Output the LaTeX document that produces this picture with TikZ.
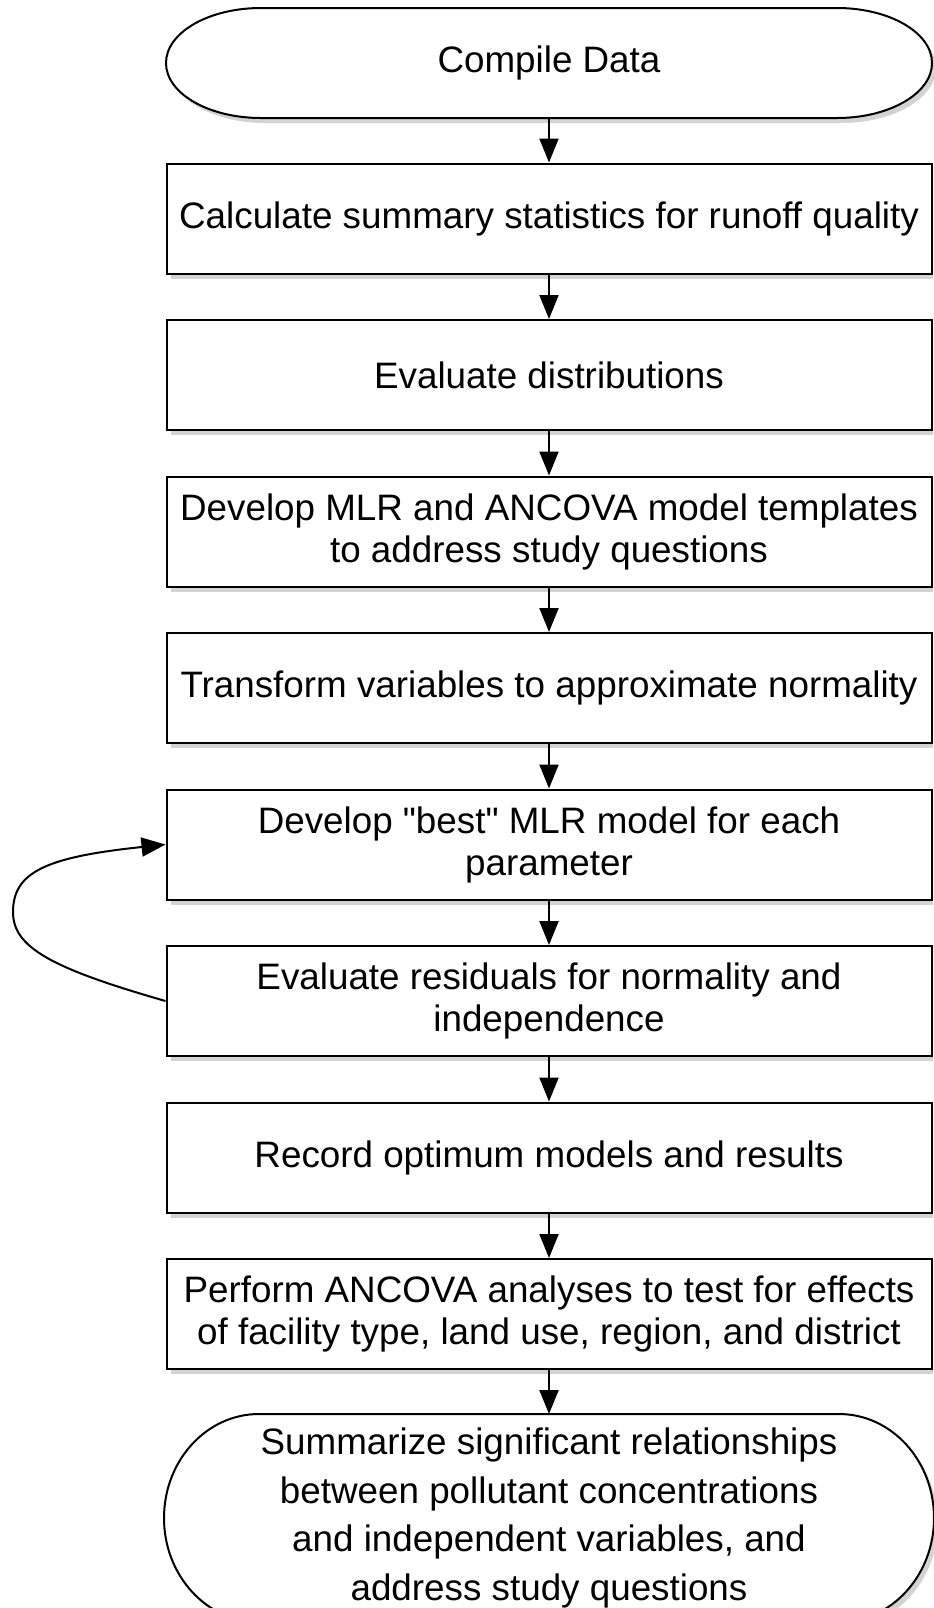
\documentclass[tikz,border=0pt]{standalone}
\usepackage{fontspec}
\setmainfont{Liberation Sans}
\usetikzlibrary{positioning,arrows.meta,shadows,backgrounds}

\tikzset{
    stepbox/.style={draw, line width=1pt, fill=white, minimum width=382.5pt, minimum height=55pt,
        inner sep=0pt, align=center, font=\fontsize{18.4}{21}\selectfont,
        drop shadow={shadow xshift=2pt, shadow yshift=-2.5pt, opacity=0.35}},
    endtext/.style={minimum width=288pt, minimum height=55pt, inner sep=0pt, outer sep=0pt,
        align=center, font=\fontsize{18.4}{24.25}\selectfont},
    endline/.style={draw, line width=1pt, fill=white,
        drop shadow={shadow xshift=2pt, shadow yshift=-2.5pt, opacity=0.35}},
    flow/.style={line width=1pt, -{Triangle[length=12pt,width=9.5pt]}}
}

\begin{document}
\begin{tikzpicture}[x=0.5pt, y=0.5pt]

    \useasboundingbox (0,0) rectangle (933,-1608);
    \clip (0,0) rectangle (933,-1608);

    % Start and end terminals (outline drawn below)
    \node[endtext] (start) at (549,-63) {Compile Data};

    % Process steps
    \node[stepbox, below=22.25pt of start] (calc) {Calculate summary statistics for runoff quality};
    \node[stepbox, below=22.25pt of calc] (distr) {Evaluate distributions};
    \node[stepbox, below=22.25pt of distr] (templ) {Develop MLR and ANCOVA model templates\\to address study questions};
    \node[stepbox, below=22.25pt of templ] (trans) {Transform variables to approximate normality};
    \node[stepbox, below=22.25pt of trans] (best) {Develop \textquotedbl best\textquotedbl\ MLR model for each\\parameter};
    \node[stepbox, below=22.25pt of best] (resid) {Evaluate residuals for normality and\\independence};
    \node[stepbox, below=22.25pt of resid] (record) {Record optimum models and results};
    \node[stepbox, below=22.25pt of record] (ancova) {Perform ANCOVA analyses to test for effects\\of facility type, land use, region, and district};

    \node[endtext, minimum width=290pt, minimum height=104pt, below=22pt of ancova] (summ)
        {Summarize significant relationships\\between pollutant concentrations\\and independent variables, and\\address study questions};

    % Terminal outlines with elliptic ends
    \begin{scope}[on background layer]
        \foreach \t/\ry in {start/27.5pt, summ/52pt}
            \path[endline] (\t.north west) -- (\t.north east)
                arc[start angle=90, end angle=-90, x radius=47.5pt, y radius=\ry]
                -- (\t.south west)
                arc[start angle=270, end angle=90, x radius=47.5pt, y radius=\ry] -- cycle;
    \end{scope}

    % Main flow
    \foreach \a/\b in {start/calc, calc/distr, distr/templ, templ/trans, trans/best,
                       best/resid, resid/record, record/ancova, ancova/summ}
        \draw[flow] (\a.south) -- (\b.north);

    % Feedback loop
    \coordinate (turn) at (13,-912);
    \draw[flow] (resid.west) .. controls +(164:120) and +(-90:35) .. (turn)
        .. controls +(90:40) and +(186:120) .. (best.west);

\end{tikzpicture}
\end{document}
